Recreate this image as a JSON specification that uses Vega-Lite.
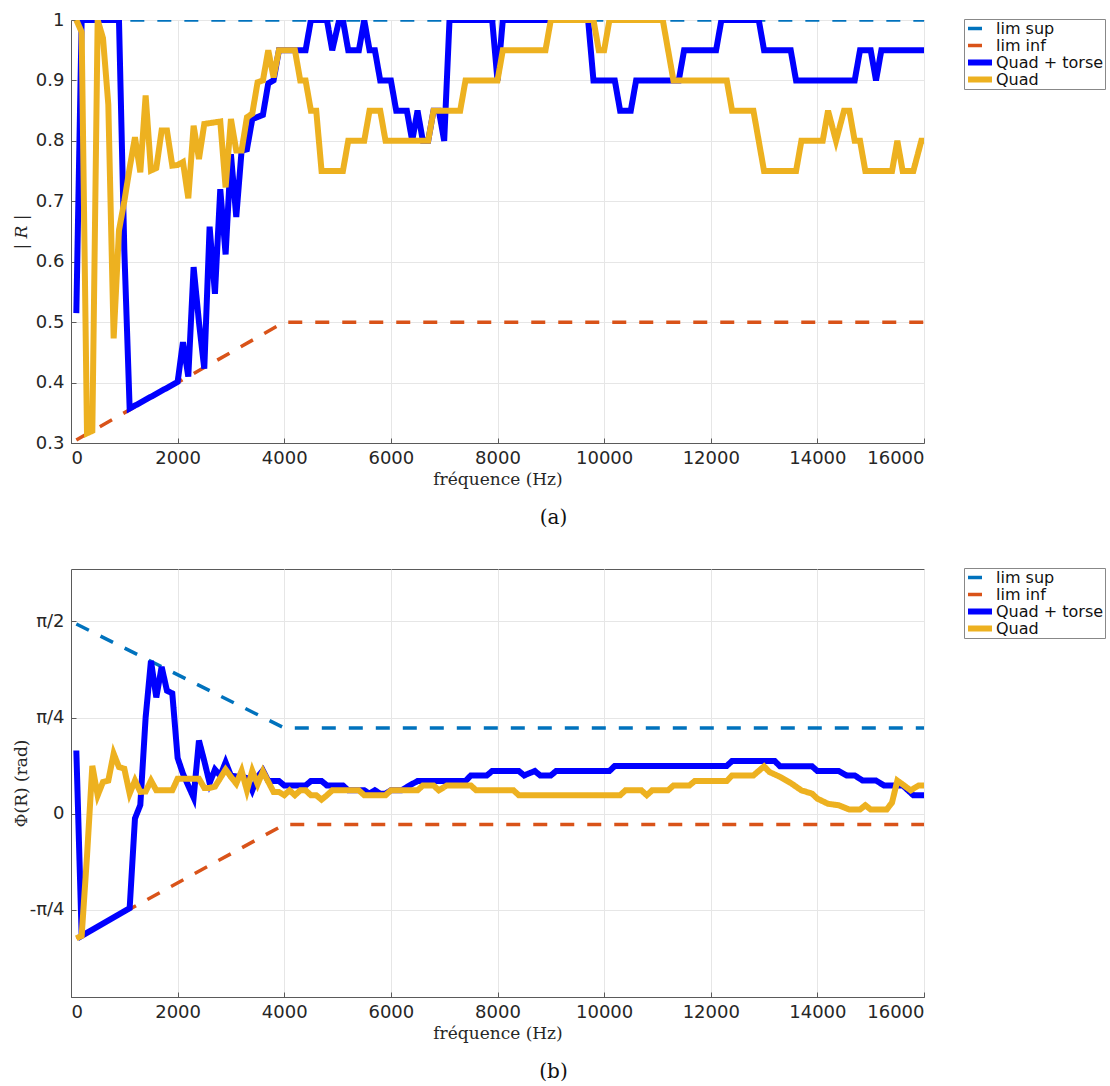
{
  "$schema": "https://vega.github.io/schema/vega-lite/v6.json",
  "padding": {"left": 11, "top": 10, "right": 0, "bottom": 0},
  "background": "white",
  "bounds": "flush",
  "spacing": 126,
  "config": {
    "view": {"stroke": "#5a5a5a", "strokeWidth": 1},
    "axis": {
      "labelFont": "DejaVu Sans", "labelFontSize": 18, "labelColor": "#262626",
      "titleFont": "DejaVu Serif", "titleFontSize": 17, "titleFontWeight": "normal", "titleColor": "#262626",
      "gridColor": "#e6e6e6", "gridWidth": 1, "domainColor": "#5a5a5a", "tickColor": "#5a5a5a",
      "tickSize": -5, "labelPadding": 12
    },
    "axisX": {"titleY": 28, "labelPadding": 11},
    "axisY": {"titleX": -41},
    "legend": {
      "labelFont": "DejaVu Sans", "labelFontSize": 16, "labelColor": "#111",
      "symbolType": "stroke", "symbolSize": 576, "strokeColor": "#888", "fillColor": "white",
      "padding": 1, "rowPadding": 0, "clipHeight": 17, "labelOffset": 1, "title": null
    },
    "title": {"font": "DejaVu Serif", "fontSize": 20, "fontWeight": "normal", "color": "#111"}
  },
  "datasets": {
    "mag": [
      {"s": "lim sup", "f": 100, "v": 1}, {"s": "lim sup", "f": 16000, "v": 1},
      {"s": "lim inf", "f": 100, "v": 0.305}, {"s": "lim inf", "f": 4000, "v": 0.5}, {"s": "lim inf", "f": 16000, "v": 0.5},
      {"s": "Quad + torse", "f": 100, "v": 0.515}, {"s": "Quad + torse", "f": 200, "v": 1}, {"s": "Quad + torse", "f": 900, "v": 1},
      {"s": "Quad + torse", "f": 1000, "v": 0.62}, {"s": "Quad + torse", "f": 1100, "v": 0.357}, {"s": "Quad + torse", "f": 2000, "v": 0.401},
      {"s": "Quad + torse", "f": 2100, "v": 0.467}, {"s": "Quad + torse", "f": 2200, "v": 0.41}, {"s": "Quad + torse", "f": 2300, "v": 0.591},
      {"s": "Quad + torse", "f": 2400, "v": 0.5}, {"s": "Quad + torse", "f": 2500, "v": 0.423}, {"s": "Quad + torse", "f": 2600, "v": 0.658},
      {"s": "Quad + torse", "f": 2700, "v": 0.547}, {"s": "Quad + torse", "f": 2800, "v": 0.72}, {"s": "Quad + torse", "f": 2900, "v": 0.612},
      {"s": "Quad + torse", "f": 3000, "v": 0.778}, {"s": "Quad + torse", "f": 3100, "v": 0.674}, {"s": "Quad + torse", "f": 3200, "v": 0.784},
      {"s": "Quad + torse", "f": 3300, "v": 0.786}, {"s": "Quad + torse", "f": 3400, "v": 0.836}, {"s": "Quad + torse", "f": 3600, "v": 0.843},
      {"s": "Quad + torse", "f": 3700, "v": 0.895}, {"s": "Quad + torse", "f": 3800, "v": 0.9}, {"s": "Quad + torse", "f": 3900, "v": 0.95},
      {"s": "Quad + torse", "f": 4400, "v": 0.95}, {"s": "Quad + torse", "f": 4500, "v": 1}, {"s": "Quad + torse", "f": 4800, "v": 1},
      {"s": "Quad + torse", "f": 4900, "v": 0.95}, {"s": "Quad + torse", "f": 5030, "v": 1}, {"s": "Quad + torse", "f": 5100, "v": 1},
      {"s": "Quad + torse", "f": 5200, "v": 0.95}, {"s": "Quad + torse", "f": 5400, "v": 0.95}, {"s": "Quad + torse", "f": 5500, "v": 1},
      {"s": "Quad + torse", "f": 5600, "v": 0.95}, {"s": "Quad + torse", "f": 5700, "v": 0.95}, {"s": "Quad + torse", "f": 5800, "v": 0.9},
      {"s": "Quad + torse", "f": 6000, "v": 0.9}, {"s": "Quad + torse", "f": 6100, "v": 0.85}, {"s": "Quad + torse", "f": 6300, "v": 0.85},
      {"s": "Quad + torse", "f": 6400, "v": 0.8}, {"s": "Quad + torse", "f": 6500, "v": 0.85}, {"s": "Quad + torse", "f": 6600, "v": 0.8},
      {"s": "Quad + torse", "f": 6700, "v": 0.8}, {"s": "Quad + torse", "f": 6800, "v": 0.85}, {"s": "Quad + torse", "f": 6900, "v": 0.85},
      {"s": "Quad + torse", "f": 7000, "v": 0.8}, {"s": "Quad + torse", "f": 7100, "v": 1}, {"s": "Quad + torse", "f": 7900, "v": 1},
      {"s": "Quad + torse", "f": 8000, "v": 0.9}, {"s": "Quad + torse", "f": 8100, "v": 1}, {"s": "Quad + torse", "f": 9700, "v": 1},
      {"s": "Quad + torse", "f": 9800, "v": 0.9}, {"s": "Quad + torse", "f": 10200, "v": 0.9}, {"s": "Quad + torse", "f": 10300, "v": 0.85},
      {"s": "Quad + torse", "f": 10500, "v": 0.85}, {"s": "Quad + torse", "f": 10600, "v": 0.9}, {"s": "Quad + torse", "f": 11400, "v": 0.9},
      {"s": "Quad + torse", "f": 11500, "v": 0.95}, {"s": "Quad + torse", "f": 12100, "v": 0.95}, {"s": "Quad + torse", "f": 12200, "v": 1},
      {"s": "Quad + torse", "f": 12900, "v": 1}, {"s": "Quad + torse", "f": 13000, "v": 0.95}, {"s": "Quad + torse", "f": 13500, "v": 0.95},
      {"s": "Quad + torse", "f": 13600, "v": 0.9}, {"s": "Quad + torse", "f": 14700, "v": 0.9}, {"s": "Quad + torse", "f": 14800, "v": 0.95},
      {"s": "Quad + torse", "f": 15000, "v": 0.95}, {"s": "Quad + torse", "f": 15100, "v": 0.9}, {"s": "Quad + torse", "f": 15200, "v": 0.95},
      {"s": "Quad + torse", "f": 16000, "v": 0.95},
      {"s": "Quad", "f": 100, "v": 1}, {"s": "Quad", "f": 200, "v": 0.98}, {"s": "Quad", "f": 300, "v": 0.316}, {"s": "Quad", "f": 400, "v": 0.32},
      {"s": "Quad", "f": 500, "v": 1}, {"s": "Quad", "f": 600, "v": 0.97}, {"s": "Quad", "f": 700, "v": 0.86}, {"s": "Quad", "f": 800, "v": 0.473},
      {"s": "Quad", "f": 900, "v": 0.652}, {"s": "Quad", "f": 1000, "v": 0.7}, {"s": "Quad", "f": 1100, "v": 0.755}, {"s": "Quad", "f": 1200, "v": 0.806},
      {"s": "Quad", "f": 1300, "v": 0.748}, {"s": "Quad", "f": 1400, "v": 0.875}, {"s": "Quad", "f": 1500, "v": 0.751}, {"s": "Quad", "f": 1600, "v": 0.755},
      {"s": "Quad", "f": 1700, "v": 0.817}, {"s": "Quad", "f": 1800, "v": 0.817}, {"s": "Quad", "f": 1900, "v": 0.759}, {"s": "Quad", "f": 2000, "v": 0.76},
      {"s": "Quad", "f": 2100, "v": 0.765}, {"s": "Quad", "f": 2200, "v": 0.705}, {"s": "Quad", "f": 2300, "v": 0.825}, {"s": "Quad", "f": 2400, "v": 0.77},
      {"s": "Quad", "f": 2500, "v": 0.828}, {"s": "Quad", "f": 2800, "v": 0.832}, {"s": "Quad", "f": 2900, "v": 0.723}, {"s": "Quad", "f": 3000, "v": 0.836},
      {"s": "Quad", "f": 3100, "v": 0.784}, {"s": "Quad", "f": 3200, "v": 0.784}, {"s": "Quad", "f": 3300, "v": 0.839}, {"s": "Quad", "f": 3400, "v": 0.845},
      {"s": "Quad", "f": 3500, "v": 0.897}, {"s": "Quad", "f": 3600, "v": 0.9}, {"s": "Quad", "f": 3700, "v": 0.95}, {"s": "Quad", "f": 3800, "v": 0.905},
      {"s": "Quad", "f": 3900, "v": 0.95}, {"s": "Quad", "f": 4200, "v": 0.95}, {"s": "Quad", "f": 4300, "v": 0.9}, {"s": "Quad", "f": 4400, "v": 0.9},
      {"s": "Quad", "f": 4500, "v": 0.85}, {"s": "Quad", "f": 4600, "v": 0.85}, {"s": "Quad", "f": 4700, "v": 0.75}, {"s": "Quad", "f": 5100, "v": 0.75},
      {"s": "Quad", "f": 5200, "v": 0.8}, {"s": "Quad", "f": 5500, "v": 0.8}, {"s": "Quad", "f": 5600, "v": 0.85}, {"s": "Quad", "f": 5800, "v": 0.85},
      {"s": "Quad", "f": 5900, "v": 0.8}, {"s": "Quad", "f": 6700, "v": 0.8}, {"s": "Quad", "f": 6800, "v": 0.85}, {"s": "Quad", "f": 7300, "v": 0.85},
      {"s": "Quad", "f": 7400, "v": 0.9}, {"s": "Quad", "f": 8000, "v": 0.9}, {"s": "Quad", "f": 8100, "v": 0.95}, {"s": "Quad", "f": 8900, "v": 0.95},
      {"s": "Quad", "f": 9000, "v": 1}, {"s": "Quad", "f": 9800, "v": 1}, {"s": "Quad", "f": 9900, "v": 0.95}, {"s": "Quad", "f": 10000, "v": 0.95},
      {"s": "Quad", "f": 10100, "v": 1}, {"s": "Quad", "f": 11100, "v": 1}, {"s": "Quad", "f": 11300, "v": 0.9}, {"s": "Quad", "f": 12300, "v": 0.9},
      {"s": "Quad", "f": 12400, "v": 0.85}, {"s": "Quad", "f": 12800, "v": 0.85}, {"s": "Quad", "f": 13000, "v": 0.75}, {"s": "Quad", "f": 13600, "v": 0.75},
      {"s": "Quad", "f": 13700, "v": 0.8}, {"s": "Quad", "f": 14100, "v": 0.8}, {"s": "Quad", "f": 14200, "v": 0.85}, {"s": "Quad", "f": 14350, "v": 0.8},
      {"s": "Quad", "f": 14500, "v": 0.85}, {"s": "Quad", "f": 14600, "v": 0.85}, {"s": "Quad", "f": 14700, "v": 0.8}, {"s": "Quad", "f": 14800, "v": 0.8},
      {"s": "Quad", "f": 14900, "v": 0.75}, {"s": "Quad", "f": 15400, "v": 0.75}, {"s": "Quad", "f": 15500, "v": 0.8}, {"s": "Quad", "f": 15600, "v": 0.75},
      {"s": "Quad", "f": 15800, "v": 0.75}, {"s": "Quad", "f": 15950, "v": 0.8}, {"s": "Quad", "f": 16000, "v": 0.8}
    ],
    "phase": [
      {"s": "lim sup", "f": 100, "v": 1.55}, {"s": "lim sup", "f": 4000, "v": 0.7}, {"s": "lim sup", "f": 16000, "v": 0.7},
      {"s": "lim inf", "f": 100, "v": -1.02}, {"s": "lim inf", "f": 4000, "v": -0.09}, {"s": "lim inf", "f": 16000, "v": -0.09},
      {"s": "Quad + torse", "f": 100, "v": 0.516}, {"s": "Quad + torse", "f": 200, "v": -1.0}, {"s": "Quad + torse", "f": 1100, "v": -0.774},
      {"s": "Quad + torse", "f": 1200, "v": -0.04}, {"s": "Quad + torse", "f": 1300, "v": 0.07}, {"s": "Quad + torse", "f": 1400, "v": 0.787},
      {"s": "Quad + torse", "f": 1500, "v": 1.249}, {"s": "Quad + torse", "f": 1600, "v": 0.95}, {"s": "Quad + torse", "f": 1700, "v": 1.2},
      {"s": "Quad + torse", "f": 1800, "v": 1.005}, {"s": "Quad + torse", "f": 1900, "v": 0.983}, {"s": "Quad + torse", "f": 2000, "v": 0.455},
      {"s": "Quad + torse", "f": 2100, "v": 0.326}, {"s": "Quad + torse", "f": 2300, "v": 0.13}, {"s": "Quad + torse", "f": 2400, "v": 0.597},
      {"s": "Quad + torse", "f": 2500, "v": 0.43}, {"s": "Quad + torse", "f": 2600, "v": 0.25}, {"s": "Quad + torse", "f": 2700, "v": 0.36},
      {"s": "Quad + torse", "f": 2800, "v": 0.31}, {"s": "Quad + torse", "f": 2900, "v": 0.42}, {"s": "Quad + torse", "f": 3000, "v": 0.31},
      {"s": "Quad + torse", "f": 3100, "v": 0.304}, {"s": "Quad + torse", "f": 3200, "v": 0.3}, {"s": "Quad + torse", "f": 3300, "v": 0.29},
      {"s": "Quad + torse", "f": 3400, "v": 0.19}, {"s": "Quad + torse", "f": 3500, "v": 0.3}, {"s": "Quad + torse", "f": 3600, "v": 0.353},
      {"s": "Quad + torse", "f": 3700, "v": 0.266}, {"s": "Quad + torse", "f": 3900, "v": 0.266}, {"s": "Quad + torse", "f": 4000, "v": 0.23},
      {"s": "Quad + torse", "f": 4400, "v": 0.23}, {"s": "Quad + torse", "f": 4500, "v": 0.266}, {"s": "Quad + torse", "f": 4700, "v": 0.266},
      {"s": "Quad + torse", "f": 4800, "v": 0.23}, {"s": "Quad + torse", "f": 5100, "v": 0.23}, {"s": "Quad + torse", "f": 5200, "v": 0.19},
      {"s": "Quad + torse", "f": 5500, "v": 0.19}, {"s": "Quad + torse", "f": 5600, "v": 0.163}, {"s": "Quad + torse", "f": 5700, "v": 0.19},
      {"s": "Quad + torse", "f": 5800, "v": 0.163}, {"s": "Quad + torse", "f": 5900, "v": 0.163}, {"s": "Quad + torse", "f": 6000, "v": 0.19},
      {"s": "Quad + torse", "f": 6200, "v": 0.19}, {"s": "Quad + torse", "f": 6300, "v": 0.217}, {"s": "Quad + torse", "f": 6500, "v": 0.266},
      {"s": "Quad + torse", "f": 7400, "v": 0.266}, {"s": "Quad + torse", "f": 7500, "v": 0.312}, {"s": "Quad + torse", "f": 7800, "v": 0.312},
      {"s": "Quad + torse", "f": 7900, "v": 0.348}, {"s": "Quad + torse", "f": 8400, "v": 0.348}, {"s": "Quad + torse", "f": 8500, "v": 0.312},
      {"s": "Quad + torse", "f": 8700, "v": 0.348}, {"s": "Quad + torse", "f": 8800, "v": 0.312}, {"s": "Quad + torse", "f": 9000, "v": 0.312},
      {"s": "Quad + torse", "f": 9100, "v": 0.348}, {"s": "Quad + torse", "f": 10100, "v": 0.348}, {"s": "Quad + torse", "f": 10200, "v": 0.39},
      {"s": "Quad + torse", "f": 12300, "v": 0.39}, {"s": "Quad + torse", "f": 12400, "v": 0.43}, {"s": "Quad + torse", "f": 13200, "v": 0.43},
      {"s": "Quad + torse", "f": 13300, "v": 0.386}, {"s": "Quad + torse", "f": 13900, "v": 0.386}, {"s": "Quad + torse", "f": 14000, "v": 0.348},
      {"s": "Quad + torse", "f": 14400, "v": 0.348}, {"s": "Quad + torse", "f": 14550, "v": 0.312}, {"s": "Quad + torse", "f": 14700, "v": 0.312},
      {"s": "Quad + torse", "f": 14850, "v": 0.27}, {"s": "Quad + torse", "f": 15100, "v": 0.27}, {"s": "Quad + torse", "f": 15250, "v": 0.23},
      {"s": "Quad + torse", "f": 15600, "v": 0.23}, {"s": "Quad + torse", "f": 15800, "v": 0.15}, {"s": "Quad + torse", "f": 16000, "v": 0.15},
      {"s": "Quad", "f": 100, "v": -1.02}, {"s": "Quad", "f": 200, "v": -1.0}, {"s": "Quad", "f": 300, "v": -0.35}, {"s": "Quad", "f": 400, "v": 0.39},
      {"s": "Quad", "f": 500, "v": 0.149}, {"s": "Quad", "f": 600, "v": 0.258}, {"s": "Quad", "f": 700, "v": 0.27}, {"s": "Quad", "f": 800, "v": 0.49},
      {"s": "Quad", "f": 900, "v": 0.38}, {"s": "Quad", "f": 1000, "v": 0.367}, {"s": "Quad", "f": 1100, "v": 0.163}, {"s": "Quad", "f": 1200, "v": 0.27},
      {"s": "Quad", "f": 1300, "v": 0.177}, {"s": "Quad", "f": 1400, "v": 0.18}, {"s": "Quad", "f": 1500, "v": 0.27}, {"s": "Quad", "f": 1600, "v": 0.19},
      {"s": "Quad", "f": 1900, "v": 0.19}, {"s": "Quad", "f": 2000, "v": 0.285}, {"s": "Quad", "f": 2400, "v": 0.285}, {"s": "Quad", "f": 2500, "v": 0.21},
      {"s": "Quad", "f": 2600, "v": 0.21}, {"s": "Quad", "f": 2700, "v": 0.22}, {"s": "Quad", "f": 2800, "v": 0.29}, {"s": "Quad", "f": 2900, "v": 0.36},
      {"s": "Quad", "f": 3000, "v": 0.3}, {"s": "Quad", "f": 3100, "v": 0.245}, {"s": "Quad", "f": 3200, "v": 0.35}, {"s": "Quad", "f": 3300, "v": 0.19},
      {"s": "Quad", "f": 3400, "v": 0.35}, {"s": "Quad", "f": 3500, "v": 0.24}, {"s": "Quad", "f": 3600, "v": 0.345}, {"s": "Quad", "f": 3700, "v": 0.26},
      {"s": "Quad", "f": 3800, "v": 0.177}, {"s": "Quad", "f": 3900, "v": 0.177}, {"s": "Quad", "f": 4000, "v": 0.15}, {"s": "Quad", "f": 4100, "v": 0.19},
      {"s": "Quad", "f": 4200, "v": 0.15}, {"s": "Quad", "f": 4300, "v": 0.19}, {"s": "Quad", "f": 4400, "v": 0.19}, {"s": "Quad", "f": 4500, "v": 0.15},
      {"s": "Quad", "f": 4600, "v": 0.15}, {"s": "Quad", "f": 4700, "v": 0.114}, {"s": "Quad", "f": 4800, "v": 0.15}, {"s": "Quad", "f": 4900, "v": 0.19},
      {"s": "Quad", "f": 5400, "v": 0.19}, {"s": "Quad", "f": 5500, "v": 0.15}, {"s": "Quad", "f": 5900, "v": 0.15}, {"s": "Quad", "f": 6000, "v": 0.19},
      {"s": "Quad", "f": 6500, "v": 0.19}, {"s": "Quad", "f": 6600, "v": 0.23}, {"s": "Quad", "f": 6800, "v": 0.23}, {"s": "Quad", "f": 6900, "v": 0.19},
      {"s": "Quad", "f": 7050, "v": 0.23}, {"s": "Quad", "f": 7500, "v": 0.23}, {"s": "Quad", "f": 7600, "v": 0.19}, {"s": "Quad", "f": 8300, "v": 0.19},
      {"s": "Quad", "f": 8400, "v": 0.15}, {"s": "Quad", "f": 10300, "v": 0.15}, {"s": "Quad", "f": 10400, "v": 0.19}, {"s": "Quad", "f": 10700, "v": 0.19},
      {"s": "Quad", "f": 10800, "v": 0.15}, {"s": "Quad", "f": 10900, "v": 0.19}, {"s": "Quad", "f": 11200, "v": 0.19}, {"s": "Quad", "f": 11300, "v": 0.23},
      {"s": "Quad", "f": 11600, "v": 0.23}, {"s": "Quad", "f": 11700, "v": 0.266}, {"s": "Quad", "f": 12300, "v": 0.266}, {"s": "Quad", "f": 12400, "v": 0.312},
      {"s": "Quad", "f": 12800, "v": 0.312}, {"s": "Quad", "f": 13000, "v": 0.386}, {"s": "Quad", "f": 13100, "v": 0.34}, {"s": "Quad", "f": 13300, "v": 0.3},
      {"s": "Quad", "f": 13500, "v": 0.25}, {"s": "Quad", "f": 13700, "v": 0.19}, {"s": "Quad", "f": 13900, "v": 0.163}, {"s": "Quad", "f": 14000, "v": 0.122},
      {"s": "Quad", "f": 14200, "v": 0.08}, {"s": "Quad", "f": 14400, "v": 0.068}, {"s": "Quad", "f": 14600, "v": 0.033}, {"s": "Quad", "f": 14800, "v": 0.033},
      {"s": "Quad", "f": 14900, "v": 0.068}, {"s": "Quad", "f": 15000, "v": 0.033}, {"s": "Quad", "f": 15300, "v": 0.033}, {"s": "Quad", "f": 15400, "v": 0.09},
      {"s": "Quad", "f": 15500, "v": 0.27}, {"s": "Quad", "f": 15750, "v": 0.19}, {"s": "Quad", "f": 15900, "v": 0.23}, {"s": "Quad", "f": 16000, "v": 0.23}
    ]
  },
  "resolve": {"legend": {"color": "independent", "strokeDash": "independent", "strokeWidth": "independent"}, "scale": {"color": "independent", "strokeDash": "independent", "strokeWidth": "independent"}},
  "vconcat": [
    {
      "width": 853, "height": 423,
      "data": {"name": "mag"},
      "title": {"text": "(a)", "orient": "bottom", "anchor": "middle", "frame": "group", "dx": 56, "offset": 21},
      "mark": {"type": "line", "clip": true},
      "encoding": {
        "x": {"field": "f", "type": "quantitative", "scale": {"domain": [0, 16000], "nice": false},
              "axis": {"title": "fréquence (Hz)", "values": [0, 2000, 4000, 6000, 8000, 10000, 12000, 14000, 16000], "format": "d"}},
        "y": {"field": "v", "type": "quantitative", "scale": {"domain": [0.3, 1], "nice": false, "zero": false},
              "axis": {"title": "| R |", "titleFontStyle": "italic", "values": [0.3, 0.4, 0.5, 0.6, 0.7, 0.8, 0.9, 1], "format": ".1~f"}},
        "color": {"field": "s", "type": "nominal",
                  "scale": {"domain": ["lim sup", "lim inf", "Quad + torse", "Quad"], "range": ["#0072BD", "#D95319", "#0000FF", "#EDB120"]},
                  "legend": {"orient": "none", "legendX": 893, "legendY": -1}},
        "strokeDash": {"field": "s", "type": "nominal",
                  "scale": {"domain": ["lim sup", "lim inf", "Quad + torse", "Quad"], "range": [[14, 13], [14, 13], [1, 0], [1, 0]]},
                  "legend": {"orient": "none", "legendX": 893, "legendY": -1}},
        "strokeWidth": {"field": "s", "type": "nominal",
                  "scale": {"type": "ordinal", "domain": ["lim sup", "lim inf", "Quad + torse", "Quad"], "range": [3.5, 3.5, 6, 6]},
                  "legend": {"orient": "none", "legendX": 893, "legendY": -1}}
      }
    },
    {
      "width": 853, "height": 428,
      "data": {"name": "phase"},
      "title": {"text": "(b)", "orient": "bottom", "anchor": "middle", "frame": "group", "dx": 56, "offset": 21},
      "mark": {"type": "line", "clip": true},
      "encoding": {
        "x": {"field": "f", "type": "quantitative", "scale": {"domain": [0, 16000], "nice": false},
              "axis": {"title": "fréquence (Hz)", "values": [0, 2000, 4000, 6000, 8000, 10000, 12000, 14000, 16000], "format": "d"}},
        "y": {"field": "v", "type": "quantitative", "scale": {"domain": [-1.5, 2], "nice": false, "zero": false},
              "axis": {"title": "Φ(R) (rad)", "values": [-0.7854, 0, 0.7854, 1.5708],
                       "labelExpr": "datum.value < -0.5 ? '-π/4' : datum.value > 1 ? 'π/2' : datum.value > 0.5 ? 'π/4' : '0'"}},
        "color": {"field": "s", "type": "nominal",
                  "scale": {"domain": ["lim sup", "lim inf", "Quad + torse", "Quad"], "range": ["#0072BD", "#D95319", "#0000FF", "#EDB120"]},
                  "legend": {"orient": "none", "legendX": 893, "legendY": -1}},
        "strokeDash": {"field": "s", "type": "nominal",
                  "scale": {"domain": ["lim sup", "lim inf", "Quad + torse", "Quad"], "range": [[14, 13], [14, 13], [1, 0], [1, 0]]},
                  "legend": {"orient": "none", "legendX": 893, "legendY": -1}},
        "strokeWidth": {"field": "s", "type": "nominal",
                  "scale": {"type": "ordinal", "domain": ["lim sup", "lim inf", "Quad + torse", "Quad"], "range": [3.5, 3.5, 6, 6]},
                  "legend": {"orient": "none", "legendX": 893, "legendY": -1}}
      }
    }
  ]
}
